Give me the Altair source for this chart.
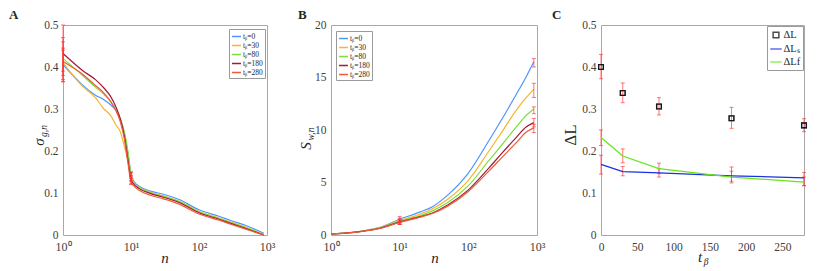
import altair as alt
import pandas as pd

# ---------------- data ----------------
SERIES = ["0", "30", "80", "180", "280"]
COLORS = ["#4D94FF", "#F5B52E", "#7BE03A", "#A11A3A", "#EE5A3A"]

# Panel A: sigma_{g,n} vs n
nA = [1, 2, 3, 4, 5, 6, 7, 8, 9, 10, 11, 13, 20, 30, 50, 100, 200, 300, 500, 900]
sigA_0 = [0.406, 0.355, 0.333, 0.322, 0.310, 0.297, 0.275, 0.240, 0.195, 0.145, 0.128, 0.117, 0.104, 0.097, 0.085, 0.060, 0.044, 0.034, 0.022, 0.004]
sigA_30 = [0.410, 0.352, 0.327, 0.300, 0.285, 0.262, 0.245, 0.210, 0.180, 0.140, 0.124, 0.114, 0.101, 0.093, 0.081, 0.056, 0.040, 0.030, 0.018, 0.001]
sigA_80 = [0.420, 0.378, 0.352, 0.335, 0.318, 0.297, 0.275, 0.245, 0.200, 0.143, 0.124, 0.113, 0.100, 0.092, 0.080, 0.055, 0.039, 0.029, 0.017, 0.000]
sigA_180 = [0.432, 0.390, 0.370, 0.350, 0.330, 0.305, 0.275, 0.235, 0.180, 0.132, 0.121, 0.111, 0.098, 0.090, 0.078, 0.053, 0.037, 0.027, 0.015, 0.000]
sigA_280 = [0.413, 0.381, 0.356, 0.338, 0.318, 0.296, 0.268, 0.228, 0.172, 0.127, 0.117, 0.107, 0.094, 0.086, 0.074, 0.050, 0.035, 0.025, 0.013, 0.000]
errA_n = [1, 1, 1, 1, 1, 10, 10, 10, 10, 10]
errA_lo = [0.365, 0.370, 0.380, 0.365, 0.390, 0.135, 0.130, 0.128, 0.122, 0.120]
errA_hi = [0.445, 0.460, 0.470, 0.500, 0.440, 0.150, 0.148, 0.150, 0.142, 0.140]

# Panel B: S_{w,n} vs n
nB = [1, 2, 3, 5, 10, 20, 30, 50, 100, 200, 300, 500, 700, 900]
SB_0 = [0.10, 0.25, 0.40, 0.70, 1.50, 2.20, 2.70, 3.80, 5.90, 9.00, 10.9, 13.4, 15.1, 16.5]
SB_30 = [0.10, 0.25, 0.40, 0.68, 1.40, 2.00, 2.50, 3.40, 5.20, 8.00, 9.70, 11.9, 13.1, 13.9]
SB_80 = [0.10, 0.24, 0.38, 0.65, 1.32, 1.85, 2.30, 3.10, 4.70, 7.10, 8.50, 10.3, 11.4, 12.0]
SB_180 = [0.10, 0.23, 0.37, 0.62, 1.25, 1.75, 2.10, 2.85, 4.30, 6.40, 7.70, 9.30, 10.3, 10.7]
SB_280 = [0.10, 0.23, 0.36, 0.60, 1.20, 1.70, 2.05, 2.75, 4.15, 6.10, 7.30, 8.80, 9.80, 10.2]
errB_n = [10, 10, 10, 10, 10, 900, 900, 900, 900, 900]
errB_lo = [1.25, 1.15, 1.05, 1.00, 1.00, 16.0, 13.1, 11.55, 10.3, 9.75]
errB_hi = [1.75, 1.60, 1.50, 1.45, 1.40, 16.8, 14.45, 12.2, 11.1, 10.55]

# Panel C: Delta L vs t_beta
tC = [0, 30, 80, 180, 280]
dL = [0.400, 0.338, 0.306, 0.278, 0.261]
dL_lo = [0.372, 0.315, 0.286, 0.254, 0.246]
dL_hi = [0.430, 0.362, 0.327, 0.304, 0.277]
dLs = [0.168, 0.151, 0.148, 0.141, 0.136]
dLs_lo = [0.145, 0.141, 0.138, 0.124, 0.117]
dLs_hi = [0.190, 0.163, 0.158, 0.162, 0.149]
dLf = [0.232, 0.188, 0.158, 0.138, 0.126]
dLf_lo = [0.213, 0.172, 0.146, 0.128, 0.118]
dLf_hi = [0.250, 0.205, 0.171, 0.152, 0.138]
C_SERIES = ["dL", "dLs", "dLf"]
C_COLORS = ["#000000", "#1F2FE0", "#66E61A"]

# ---------------- frames ----------------
def long(xs, cols):
    rows = []
    for s, vals in zip(SERIES, cols):
        for x, v in zip(xs, vals):
            rows.append({"x": x, "v": v, "series": s})
    return pd.DataFrame(rows)

dfA = long(nA, [sigA_0, sigA_30, sigA_80, sigA_180, sigA_280])
dfB = long(nB, [SB_0, SB_30, SB_80, SB_180, SB_280])
dfAe = pd.DataFrame({"x": errA_n, "lo": errA_lo, "hi": errA_hi})
dfBe = pd.DataFrame({"x": errB_n, "lo": errB_lo, "hi": errB_hi})

dfCp = pd.DataFrame({"x": tC, "v": dL, "series": "dL"})
dfCl = pd.concat([pd.DataFrame({"x": tC, "v": dLs, "series": "dLs"}),
                  pd.DataFrame({"x": tC, "v": dLf, "series": "dLf"})])
dfCe = pd.DataFrame({"x": tC * 3, "lo": dL_lo + dLs_lo + dLf_lo, "hi": dL_hi + dLs_hi + dLf_hi})

FONT = "Liberation Serif"
TXT = "#262626"

def label(txt, x, y, size, angle=0, style="normal", align="center", baseline="middle", weight="normal"):
    return alt.Chart(pd.DataFrame({"t": [txt]})).mark_text(
        text=txt, font=FONT, fontSize=size, fontStyle=style, fontWeight=weight,
        angle=angle, align=align, baseline=baseline, color=TXT
    ).encode(x=alt.value(x), y=alt.value(y))

LOGEXPR = "datum.value==1?'10⁰':datum.value==10?'10¹':datum.value==100?'10²':'10³'"
log_axis = alt.Axis(values=[1, 10, 100, 1000], labelExpr=LOGEXPR, title=None, labelFontSize=12,
                    labelFlush=False, labelPadding=6)
frac_axis = alt.Axis(values=[0, 0.1, 0.2, 0.3, 0.4, 0.5],
                     labelExpr="datum.value==0?'0':format(datum.value,'.1f')", title=None, labelPadding=5)

def series_legend(lx, ly):
    return alt.Legend(orient="none", legendX=lx, legendY=ly, title=None, symbolType="stroke",
                      symbolStrokeWidth=1.5, symbolSize=80, labelFont=FONT, labelFontSize=7.5,
                      labelColor=TXT, rowPadding=0, padding=2, strokeColor="#9A9A9A",
                      fillColor="white", labelExpr="'t' + 'ᵦ=' + datum.label", labelOffset=1)

def errbars(df, xscale):
    return alt.Chart(df).mark_errorbar(ticks=True, size=4, thickness=1, color="#FF3030", opacity=0.65).encode(
        x=alt.X("x:Q", scale=xscale), y=alt.Y("lo:Q"), y2="hi:Q")

# ---------------- Panel A ----------------
xA = alt.Scale(type="log", domain=[1, 1000])
linesA = alt.Chart(dfA).mark_line(strokeWidth=1.2, interpolate="monotone").encode(
    x=alt.X("x:Q", scale=xA, axis=log_axis),
    y=alt.Y("v:Q", scale=alt.Scale(domain=[0, 0.5]), axis=frac_axis),
    color=alt.Color("series:N", scale=alt.Scale(domain=SERIES, range=COLORS), legend=series_legend(166, 4)),
)
panelA = alt.layer(
    linesA, errbars(dfAe, xA),
    label("A", -54, -16, 13, align="left", baseline="top", weight="bold"),
    label("σ", -24, 117, 15, angle=270, style="italic"),
    label("g,n", -19, 106, 9.5, angle=270, style="italic"),
    label("n", 102, 233, 15, style="italic"),
).properties(width=204, height=210)

# ---------------- Panel B ----------------
xB = alt.Scale(type="log", domain=[1, 1000])
linesB = alt.Chart(dfB).mark_line(strokeWidth=1.2, interpolate="monotone").encode(
    x=alt.X("x:Q", scale=xB, axis=log_axis),
    y=alt.Y("v:Q", scale=alt.Scale(domain=[0, 20]),
            axis=alt.Axis(values=[0, 5, 10, 15, 20], title=None, labelPadding=5)),
    color=alt.Color("series:N", scale=alt.Scale(domain=SERIES, range=COLORS), legend=series_legend(5, 6)),
)
panelB = alt.layer(
    linesB, errbars(dfBe, xB),
    label("B", -33, -16, 13, align="left", baseline="top", weight="bold"),
    label("S", -25, 121, 15, angle=270, style="italic"),
    label("w,n", -20, 109, 9.5, angle=270, style="italic"),
    label("n", 104, 233, 15, style="italic"),
).properties(width=206, height=210)

# ---------------- Panel C ----------------
SQUARE = "M-0.5,-0.5H0.5V0.5H-0.5Z"
xC = alt.Scale(domain=[0, 280])
yC = alt.Scale(domain=[0, 0.5])
cColor = alt.Scale(domain=C_SERIES, range=C_COLORS)
cShape = alt.Scale(domain=C_SERIES, range=[SQUARE, "stroke", "stroke"])
cLegend = alt.Legend(orient="none", legendX=166, legendY=1, title=None, labelFont=FONT, labelFontSize=10.5,
                     labelColor=TXT, rowPadding=1, padding=2.5, strokeColor="#9A9A9A", fillColor="white",
                     symbolSize=130, symbolStrokeWidth=1.5, labelOffset=1, symbolFillColor="white",
                     labelExpr="datum.label=='dL'?'ΔL':datum.label=='dLs'?'ΔLₛ':'ΔLf'")

def pointsC():
    return alt.Chart(dfCp).mark_point(filled=False, size=90, strokeWidth=1.3).encode(
        x=alt.X("x:Q", scale=xC, axis=alt.Axis(values=[0, 50, 100, 150, 200, 250], title=None,
                                               labelFlush=False, labelPadding=6)),
        y=alt.Y("v:Q", scale=yC, axis=frac_axis),
        color=alt.Color("series:N", scale=cColor, legend=cLegend),
        shape=alt.Shape("series:N", scale=cShape, legend=cLegend),
    )

linesC = alt.Chart(dfCl).mark_line(strokeWidth=1.3).encode(
    x=alt.X("x:Q", scale=xC),
    y=alt.Y("v:Q", scale=yC),
    color=alt.Color("series:N", scale=cColor, legend=cLegend),
)
errC = errbars(dfCe, xC)
panelC = alt.layer(
    pointsC(), errC, linesC, pointsC(),
    label("C", -49, -16, 13, align="left", baseline="top", weight="bold"),
    label("ΔL", -30, 110, 17, angle=270),
    label("t", 99, 232, 15, style="italic"),
    label("β", 105, 237, 9.5, style="italic"),
).properties(width=203, height=210)

chart = alt.hconcat(panelA, panelB, panelC, spacing=64, bounds="flush").resolve_scale(
    color="independent", shape="independent"
).resolve_legend(color="independent", shape="independent").properties(
    padding=0
).configure_view(stroke="#A8A8A8", strokeWidth=1).configure_axis(
    labelFont=FONT, labelFontSize=11.5, labelColor="#404040", domain=False, ticks=False,
    grid=False
)

chart.save("out.html", embed_options={"renderer": "svg", "actions": False})
